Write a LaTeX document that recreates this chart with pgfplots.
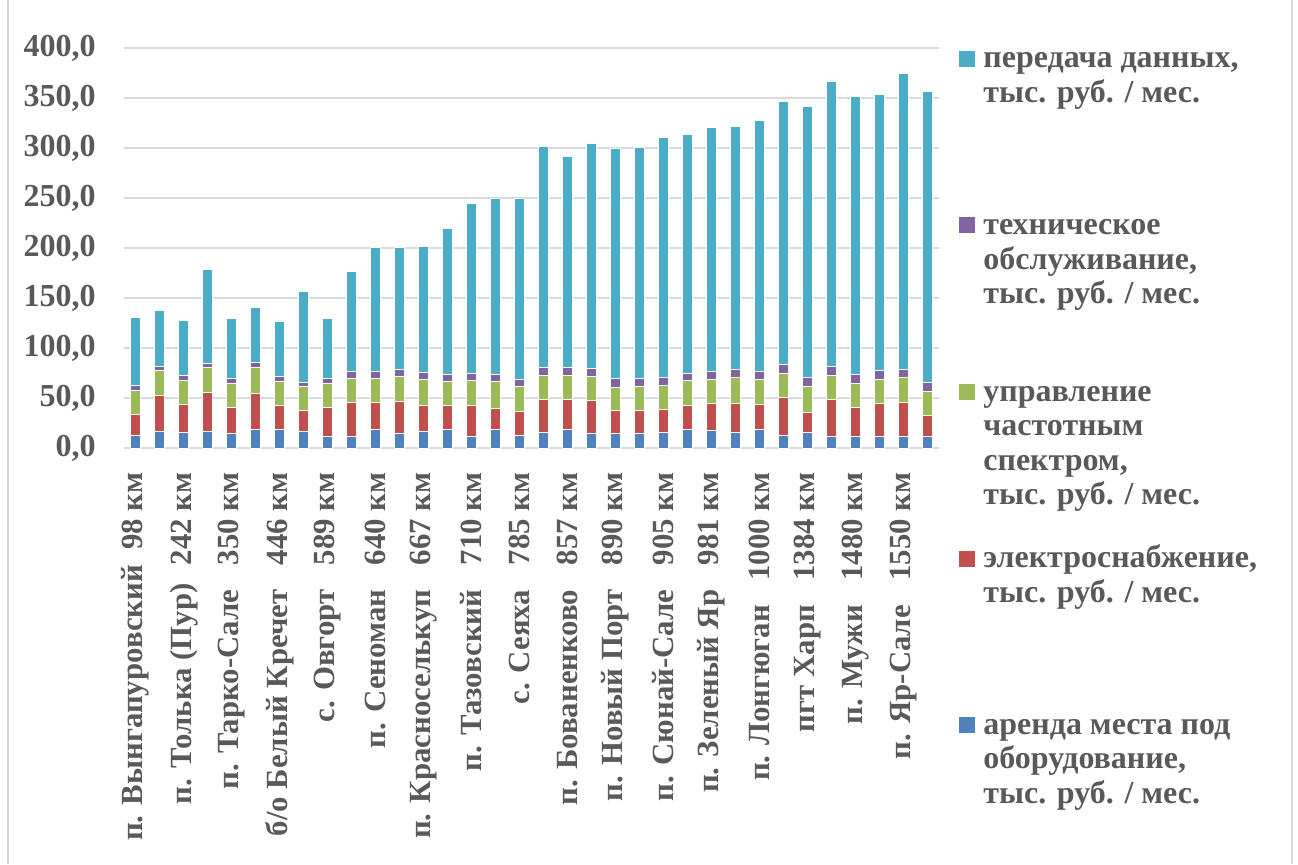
\documentclass[border=0pt]{standalone}
\usepackage{fontspec}
\setmainfont{Liberation Serif}
\usepackage{pgfplots}
\usepackage{pgfplotstable}
\pgfplotsset{compat=1.18}
\definecolor{cA}{HTML}{4F81BD}
\definecolor{cE}{HTML}{C0504D}
\definecolor{cU}{HTML}{9BBB59}
\definecolor{cT}{HTML}{8064A2}
\definecolor{cP}{HTML}{4BACC6}
\definecolor{txt}{HTML}{595959}
\definecolor{grd}{HTML}{D9D9D9}
\pgfplotstableread{
x a e u t p
0 13.0 20.7 23.6 5.0 68.0
1 17.0 35.7 24.6 4.7 55.3
2 16.0 27.7 24.0 5.0 55.0
3 17.0 38.7 24.6 4.7 94.0
4 14.3 26.4 24.3 4.7 60.0
5 19.0 35.7 25.6 5.0 55.0
6 19.0 23.7 24.3 4.3 55.7
7 17.0 20.7 24.3 4.0 90.7
8 12.0 28.7 24.3 4.7 60.0
9 12.0 33.7 24.0 7.0 99.6
10 19.0 26.7 24.0 7.0 123.6
11 15.0 31.7 25.0 7.0 122.3
12 17.0 26.0 25.7 7.3 125.7
13 18.3 24.7 24.0 6.7 146.0
14 12.0 31.0 24.7 7.0 169.6
15 19.0 20.7 26.6 7.0 176.4
16 12.7 24.0 24.6 7.7 180.7
17 16.0 32.7 24.0 8.3 220.6
18 18.7 30.0 23.6 8.4 210.6
19 15.0 32.7 23.6 8.4 225.0
20 14.3 23.0 23.7 8.7 230.0
21 14.3 23.4 24.3 7.7 230.6
22 16.0 22.3 24.0 8.4 240.3
23 18.7 24.3 24.7 7.3 238.7
24 18.0 26.7 23.6 8.4 244.0
25 16.0 28.7 25.6 8.0 243.7
26 18.7 25.0 24.6 8.7 250.3
27 12.7 38.0 23.6 9.4 263.3
28 16.0 19.7 26.3 8.7 270.6
29 12.0 36.7 23.6 9.4 285.0
30 12.0 28.7 24.3 8.7 278.3
31 12.0 33.0 23.7 9.3 275.3
32 12.0 33.7 24.6 8.7 295.3
33 12.0 20.3 24.0 9.4 291.3
}\datatable
\newcommand{\lf}{\fontsize{16pt}{17.3pt}\selectfont\bfseries}
\newcommand{\xf}{\fontsize{15.4pt}{17pt}\selectfont\bfseries}
\begin{document}
\begin{tikzpicture}
\useasboundingbox (-61.85pt,-208pt) rectangle (587.15pt,224pt);
\draw[grd, line width=0.9pt] (-57.85pt,-208pt) -- (-57.85pt,224pt);
\draw[grd, line width=0.9pt] (584.15pt,-208pt) -- (584.15pt,224pt);
\begin{axis}[
  at={(0pt,0pt)}, anchor=south west,
  scale only axis, width=407.85pt, height=200pt,
  ybar stacked, bar width=5pt,
  xmin=-0.5, xmax=33.5, ymin=0, ymax=400,
  ytick={0,50,...,400},
  xtick={0,2,...,32},
  xticklabels={
    {п. Вынгапуровский\hspace{0.5em}98 км},
    {п. Толька (Пур)\hspace{0.6em}242 км},
    {п. Тарко-Сале\hspace{0.8em}350 км},
    {б/о Белый Кречет\hspace{0.8em}446 км},
    {с. Овгорт\hspace{0.8em}589 км},
    {п. Сеноман\hspace{0.8em}640 км},
    {п. Красноселькуп\hspace{0.8em}667 км},
    {п. Тазовский\hspace{0.8em}710 км},
    {с. Сеяха\hspace{0.8em}785 км},
    {п. Бованенково\hspace{0.8em}857 км},
    {п. Новый Порт\hspace{0.8em}890 км},
    {п. Сюнай-Сале\hspace{0.8em}905 км},
    {п. Зеленый Яр\hspace{0.8em}981 км},
    {п. Лонгюган\hspace{0.8em}1000 км},
    {пгт Харп\hspace{0.8em}1384 км},
    {п. Мужи\hspace{0.8em}1480 км},
    {п. Яр-Сале\hspace{0.8em}1550 км}},
  xticklabel style={rotate=90, anchor=east, inner sep=0pt, xshift=-2pt, font=\xf, text=txt},
  xticklabel shift=10pt,
  yticklabel style={anchor=east, inner sep=0pt, xshift=-13.85pt, font=\lf, text=txt},
  /pgf/number format/.cd, use comma, fixed, fixed zerofill, precision=1, assume math mode=true,
  /pgfplots/.cd,
  major tick length=0pt,
  axis line style={draw=none},
  ymajorgrids, grid style={grd, line width=0.75pt},
  reverse legend,
  legend image code/.code={\fill[#1, draw=none] (0pt,0.5pt) rectangle (8pt,8.5pt);},
  legend style={at={(axis description cs:1.024,1.012)}, anchor=north west, draw=none, fill=none,
    inner sep=0pt, column sep=4pt, row sep=0pt,
    cells={anchor=base west}, nodes={inner sep=0pt, text depth=, text height=, font=\lf, text=txt}},
]
\addplot[fill=cA, draw=white, line width=0.3pt] table[x=x, y=a] {\datatable};
\addplot[fill=cE, draw=white, line width=0.3pt] table[x=x, y=e] {\datatable};
\addplot[fill=cU, draw=white, line width=0.3pt] table[x=x, y=u] {\datatable};
\addplot[fill=cT, draw=white, line width=0.3pt] table[x=x, y=t] {\datatable};
\addplot[fill=cP, draw=white, line width=0.3pt] table[x=x, y=p] {\datatable};
\legend{
  {\parbox[t][40pt][t]{150pt}{\strut аренда места под\\оборудование,\\тыс. руб. / мес.}},
  {\parbox[t][83.3pt][t]{150pt}{\strut электроснабжение,\\тыс. руб. / мес.}},
  {\parbox[t][83.3pt][t]{150pt}{\strut управление\\частотным\\спектром,\\тыс. руб. / мес.}},
  {\parbox[t][83.3pt][t]{150pt}{\strut техническое\\обслуживание,\\тыс. руб. / мес.}},
  {\parbox[t][83.3pt][t]{150pt}{\strut передача данных,\\тыс. руб. / мес.}}}
\end{axis}
\end{tikzpicture}
\end{document}
